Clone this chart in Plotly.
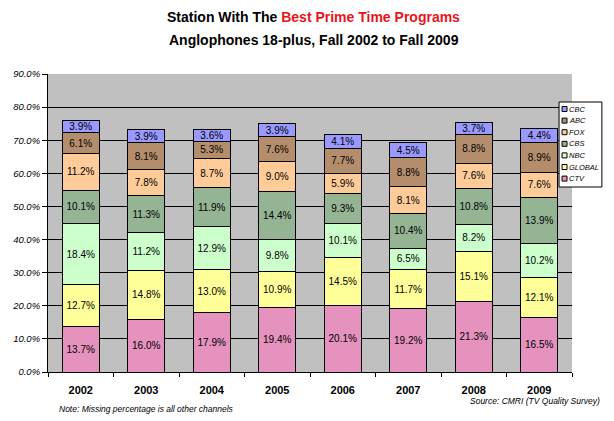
import plotly.graph_objects as go

years = ["2002", "2003", "2004", "2005", "2006", "2007", "2008", "2009"]
ctv = [13.7, 16.0, 17.9, 19.4, 20.1, 19.2, 21.3, 16.5]
global_ = [12.7, 14.8, 13.0, 10.9, 14.5, 11.7, 15.1, 12.1]
nbc = [18.4, 11.2, 12.9, 9.8, 10.1, 6.5, 8.2, 10.2]
cbs = [10.1, 11.3, 11.9, 14.4, 9.3, 10.4, 10.8, 13.9]
fox = [11.2, 7.8, 8.7, 9.0, 5.9, 8.1, 7.6, 7.6]
abc = [6.1, 8.1, 5.3, 7.6, 7.7, 8.8, 8.8, 8.9]
cbc = [3.9, 3.9, 3.6, 3.9, 4.1, 4.5, 3.7, 4.4]
y_ticks = [0, 10, 20, 30, 40, 50, 60, 70, 80, 90]

series = [
    ("CTV", ctv, "#E592BE"),
    ("GLOBAL", global_, "#FFFF99"),
    ("NBC", nbc, "#CCFFCC"),
    ("CBS", cbs, "#94B494"),
    ("FOX", fox, "#FFCC99"),
    ("ABC", abc, "#B48E6C"),
    ("CBC", cbc, "#9999FF"),
]

FONT = "Liberation Sans, Arial"
W, H = 614, 421
L, R, T, B = 46, 42, 74, 49
PW, PH = W - L - R, H - T - B

def px_x(x):
    return (x - L) / PW

def px_y(y):
    return (H - B - y) / PH

fig = go.Figure()
for name, vals, col in series:
    fig.add_trace(go.Bar(
        x=years, y=vals, name=name,
        marker=dict(color=col, line=dict(color="black", width=1)),
        text=[f"{v:.1f}%" for v in vals],
        textposition="inside", insidetextanchor="middle",
        textfont=dict(family=FONT, size=10, color="black"),
        textangle=0, constraintext="none",
    ))

fig.update_layout(
    width=W, height=H,
    barmode="stack", bargap=0.44,
    paper_bgcolor="white", plot_bgcolor="#C0C0C0",
    margin=dict(l=L, r=R, t=T, b=B),
    font=dict(family=FONT, color="black"),
    showlegend=False,
    uniformtext=dict(minsize=9, mode="show"),
)
fig.update_yaxes(
    range=[0, 90], tickvals=y_ticks,
    ticktext=[f"<i>{v:.1f}%</i>" for v in y_ticks],
    tickfont=dict(size=9.5), showgrid=True, gridcolor="black", gridwidth=1,
    showline=True, linecolor="black", linewidth=1,
    ticks="outside", ticklen=5, tickcolor="black", zeroline=False,
)
fig.update_xaxes(
    tickvals=years, ticktext=[f"<b>{y}</b>" for y in years],
    tickfont=dict(size=11), showline=True, linecolor="black", linewidth=1,
    ticks="outside", tickson="boundaries", ticklen=4, tickcolor="black",
    ticklabelstandoff=8,
)

# Title (two lines)
fig.add_annotation(
    text="<b>Station With The <span style='color:#E8141A'>Best Prime Time Programs</span></b>",
    xref="paper", yref="paper", x=px_x(313), y=px_y(17), xanchor="center", yanchor="middle",
    showarrow=False, font=dict(size=14, family=FONT),
)
fig.add_annotation(
    text="<b>Anglophones 18-plus, Fall 2002 to Fall 2009</b>",
    xref="paper", yref="paper", x=px_x(313), y=px_y(40), xanchor="center", yanchor="middle",
    showarrow=False, font=dict(size=14, family=FONT),
)

# Notes
fig.add_annotation(
    text="<i>Note: Missing percentage is all other channels</i>",
    xref="paper", yref="paper", x=px_x(55), y=px_y(409), xanchor="left", yanchor="middle",
    showarrow=False, font=dict(size=8.5, family=FONT),
)
fig.add_annotation(
    text="<i>Source: CMRI (TV Quality Survey)</i>",
    xref="paper", yref="paper", x=px_x(602), y=px_y(401), xanchor="right", yanchor="middle",
    showarrow=False, font=dict(size=8.5, family=FONT),
)

# Custom legend box
lx0, lx1, ly0, ly1 = 559, 602, 102, 187
fig.add_shape(type="rect", xref="paper", yref="paper",
              x0=px_x(lx0), x1=px_x(lx1), y0=px_y(ly1), y1=px_y(ly0),
              fillcolor="white", line=dict(color="black", width=1), layer="above")
for i, (name, vals, col) in enumerate(reversed(series)):
    cy = 109 + i * 11.6
    fig.add_shape(type="rect", xref="paper", yref="paper",
                  x0=px_x(562), x1=px_x(567), y0=px_y(cy + 2.5), y1=px_y(cy - 2.5),
                  fillcolor=col, line=dict(color="black", width=1), layer="above")
    fig.add_annotation(
        text=f"<i>{name}</i>", xref="paper", yref="paper",
        x=px_x(568), y=px_y(cy), xanchor="left", yanchor="middle",
        showarrow=False, font=dict(size=7.5, family=FONT), borderpad=0,
    )

fig.write_html("out.html")
